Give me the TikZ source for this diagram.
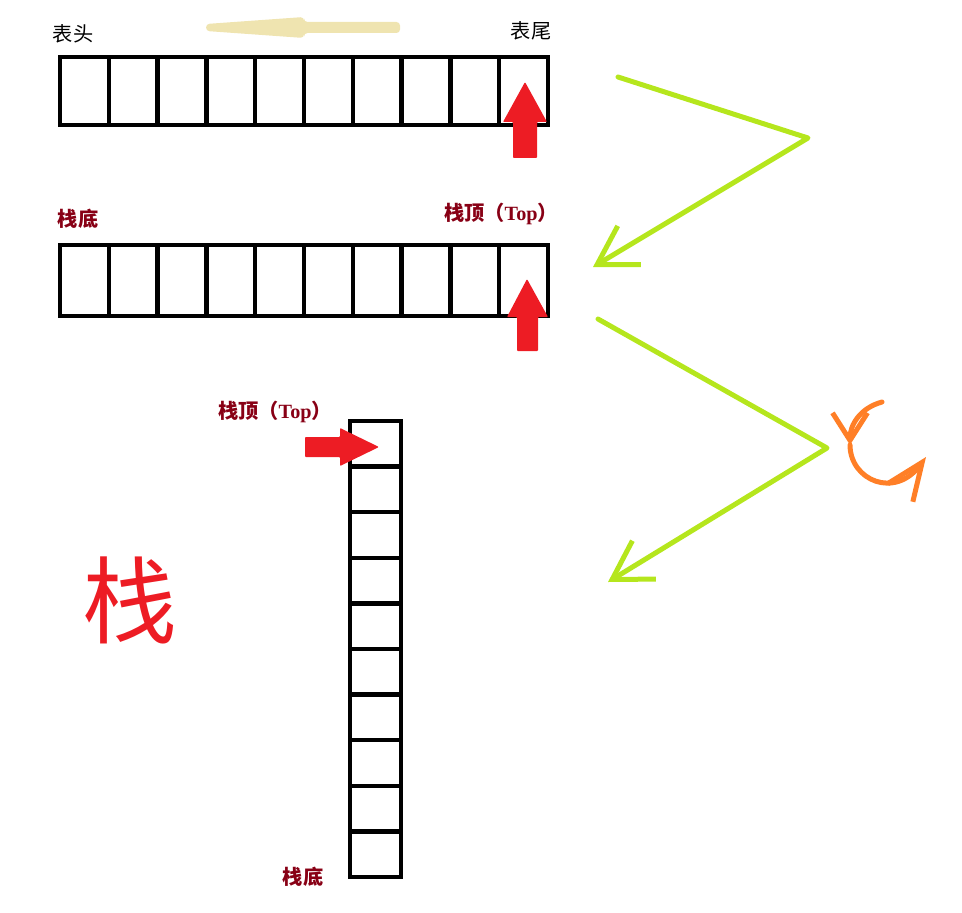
\documentclass[tikz,border=0pt]{standalone}
\usepackage{fontspec}
\setmainfont{Liberation Serif}
\newfontfamily\cjk{Noto Sans CJK SC}
\usetikzlibrary{arrows.meta}
\usepackage{xcolor}
\definecolor{stackred}{RGB}{237,28,36}
\definecolor{labelred}{RGB}{136,0,21}
\definecolor{zgreen}{RGB}{181,230,29}
\definecolor{turnorange}{RGB}{255,127,39}
\definecolor{beige}{RGB}{239,228,176}
\providecommand{\stacktoplabel}{栈顶（{\rmfamily Top}）}
\tikzstyle{hcell} = [draw, line width=0.09cm, minimum width=0.976cm, minimum height=1.36cm, inner sep=0pt]
\tikzstyle{scell} = [hcell, minimum height=1.42cm]
\tikzstyle{vcell} = [draw, line width=0.09cm, minimum width=1.02cm, minimum height=0.912cm, inner sep=0pt]
\tikzstyle{blabel} = [inner sep=0pt]
\tikzstyle{rlabel} = [font={\cjk\bfseries\fontsize{11.5pt}{13}\selectfont}, text=labelred, inner sep=0pt]
\tikzstyle{blockarrow} = [fill=stackred, rounded corners=0.5pt]
\tikzstyle{zigzag} = [draw=zgreen, line width=0.1cm, line cap=round, line join=round, -{Straight Barb[length=0.75cm, width=0.9cm]}]
\tikzstyle{turn} = [draw=turnorange, line width=0.1cm, line cap=round, line join=round]

\begin{document}
\begin{tikzpicture}[x=0.02cm, y=-0.02cm]
    \tikzset{font={\cjk\fontsize{11.5pt}{13}\selectfont}}
    \useasboundingbox (0,0) rectangle (962,912);

    % Table (queue)
    \foreach \i in {1,...,10}
        \node [hcell] (q\i) at ({60+48.8*(\i-0.5)},91) {};
    \node [blabel] (qhead) at (73,34) {表头};
    \node [blabel] (qtail) at (531,31) {表尾};
    \fill [beige, rounded corners=2pt] (206,24) -- (304,17) -- (304,22) -- (400,22) -- (400,33) -- (304,33) -- (304,38) -- (206,31) -- cycle;
    \fill [blockarrow] (525,82) -- ++(22,40) -- ++(-10,0) -- ++(0,36) -- ++(-24,0) -- ++(0,-36) -- ++(-10,0) -- cycle;

    % Stack, lying
    \foreach \i in {1,...,10}
        \node [scell] (s\i) at ({60+48.8*(\i-0.5)},280.5) {};
    \node [rlabel] (sbottom) at (78,219) {栈底};
    \node [rlabel] (stop) at (501,214) {\stacktoplabel};
    \fill [blockarrow] (527,279) -- ++(21,38) -- ++(-10,0) -- ++(0,34) -- ++(-21,0) -- ++(0,-34) -- ++(-10,0) -- cycle;

    % Stack, standing
    \foreach \i in {1,...,10}
        \node [vcell] (v\i) at (375.5,{421+45.6*(\i-0.5)}) {};
    \node [rlabel] (vtop) at (275,412) {\stacktoplabel};
    \node [rlabel] (vbottom) at (303,877) {栈底};
    \fill [blockarrow] (379,447) -- (340,428) -- (340,437) -- (305,437) -- (305,457) -- (340,457) -- (340,466) -- cycle;
    \node [font={\cjk\fontsize{54pt}{60}\selectfont}, text=stackred, inner sep=0pt] (bigstack) at (130,600) {栈};

    % Turn arrows
    \coordinate (z1a) at (618,77);
    \coordinate (z1b) at (808,138);
    \coordinate (z1c) at (593,267);
    \coordinate (z2a) at (598,319);
    \coordinate (z2b) at (827,448);
    \coordinate (z2c) at (608,582);
    \draw [zigzag] (z1a) -- (z1b) -- (z1c);
    \draw [zigzag] (z2a) -- (z2b) -- (z2c);

    \coordinate (o1) at (882,402);
    \coordinate (o2) at (850,445);
    \coordinate (o3) at (926,457);
    \draw [turn, -{Straight Barb[length=0.55cm, width=0.7cm]}] (o1) .. controls (860,408) and (850,425) .. (o2);
    \draw [turn, -{Straight Barb[length=0.75cm, width=0.62cm]}] (o2) .. controls (850,480) and (895,500) .. (o3);
\end{tikzpicture}
\end{document}
